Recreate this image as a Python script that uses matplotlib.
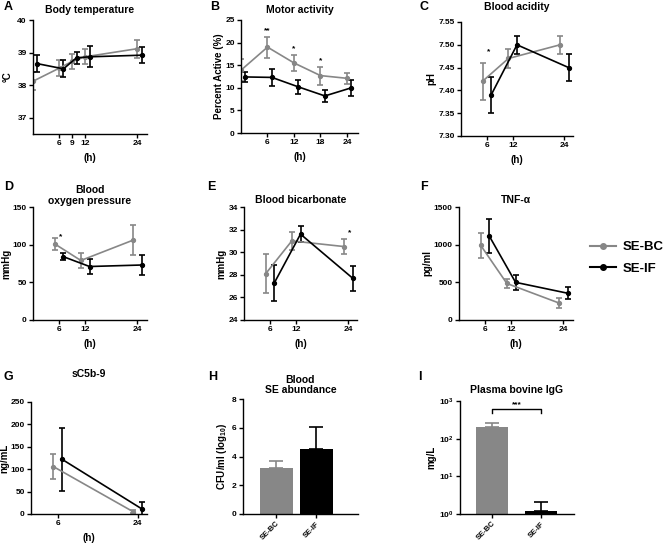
import numpy as np
import matplotlib
matplotlib.use("Agg")
import matplotlib.pyplot as plt
from matplotlib.lines import Line2D

plt.rcParams['font.family'] = ['Liberation Sans', 'DejaVu Sans']
plt.rcParams['font.weight'] = 'bold'
plt.rcParams['axes.labelweight'] = 'bold'
plt.rcParams['axes.titleweight'] = 'bold'
plt.rcParams['mathtext.fontset'] = 'custom'
plt.rcParams['mathtext.rm'] = 'Liberation Sans:bold'
plt.rcParams['mathtext.bf'] = 'Liberation Sans:bold'
plt.rcParams['mathtext.it'] = 'Liberation Sans:bold:italic'

# ---- data ----
# A body temperature
hours_bc_A = [0, 6, 9, 12, 24]
hours_if_A = [1, 7, 10, 13, 25]
temp_bc = [38.12, 38.52, 38.73, 38.87, 39.12]
temp_bc_err = [0.28, 0.24, 0.24, 0.23, 0.28]
temp_if = [38.66, 38.50, 38.84, 38.87, 38.92]
temp_if_err = [0.26, 0.26, 0.19, 0.32, 0.25]

# B motor activity
hours_bc_B = [0, 6, 12, 18, 24]
hours_if_B = [1, 7, 13, 19, 25]
act_bc = [13.9, 19.0, 15.5, 12.7, 12.1]
act_bc_err = [2.5, 2.3, 1.8, 2.0, 1.2]
act_if = [12.4, 12.3, 10.2, 8.2, 10.0]
act_if_err = [1.2, 1.8, 1.5, 1.4, 1.8]
act_stars = ['**', '*', '*']
act_star_x = [6, 12, 18]
act_star_y = [21.8, 17.8, 15.2]

# C-F blood samples
hours_bc_blood = [5, 11, 23]
hours_if_blood = [7, 13, 25]
ph_bc = [7.42, 7.47, 7.50]
ph_bc_err = [0.04, 0.02, 0.02]
ph_if = [7.39, 7.50, 7.45]
ph_if_err = [0.04, 0.02, 0.03]
po2_bc = [101, 79, 106]
po2_bc_err = [8, 10, 20]
po2_if = [84, 71, 73]
po2_if_err = [5, 9.5, 13.5]
hco3_bc = [28.1, 31.0, 30.5]
hco3_bc_err = [1.7, 0.8, 0.7]
hco3_if = [27.3, 31.6, 27.7]
hco3_if_err = [1.6, 0.7, 1.1]
tnf_bc = [990, 485, 225]
tnf_bc_err = [165, 60, 70]
tnf_if = [1110, 500, 355]
tnf_if_err = [225, 100, 80]

# G sC5b-9
hours_bc_G = [5, 23]
hours_if_G = [7, 25]
c5b9_bc = [106, 5]
c5b9_bc_err = [27, 3]
c5b9_if = [122, 11]
c5b9_if_err = [70, 16]

# H, I bars
groups = ['SE-BC', 'SE-IF']
se_abund = [3.2, 4.55]
se_abund_err = [0.5, 1.5]
igg = [200, 1.22]
igg_err = [55, 0.8]

GRAY = '#878787'
BLACK = '#000000'
W, H = 669, 544

fig = plt.figure(figsize=(W / 100, H / 100), dpi=100)


def px_axes(l, t, r, b):
    ax = fig.add_axes([l / W, 1 - b / H, (r - l) / W, (b - t) / H])
    ax.spines['top'].set_visible(False)
    ax.spines['right'].set_visible(False)
    for s in ('left', 'bottom'):
        ax.spines[s].set_linewidth(1.0)
    ax.tick_params(labelsize=6, length=3, width=1, pad=1.5)
    return ax


def lines(ax, xb, yb, eb, xi, yi, ei):
    kw = dict(marker='o', markersize=2.8, lw=1.2, elinewidth=1.2, capsize=2, capthick=1.2)
    ax.errorbar(xb, yb, yerr=eb, color=GRAY, **kw)
    ax.errorbar(xi, yi, yerr=ei, color=BLACK, **kw)
    ax.set_xlabel('(h)', fontsize=7, labelpad=4)


def letter(x, y, s):
    fig.text(x / W, 1 - y / H, s, fontsize=9, fontweight='bold', ha='left', va='center')


# A
ax = px_axes(33, 20, 147, 134)
lines(ax, hours_bc_A, temp_bc, temp_bc_err, hours_if_A, temp_if, temp_if_err)
ax.set_xlim(0, 26.2)
ax.set_ylim(36.5, 40)
ax.set_xticks([6, 9, 12, 24])
ax.set_yticks([37, 38, 39, 40])
ax.set_ylabel('°C', fontsize=7, labelpad=3)
ax.set_title('Body temperature', fontsize=7.5, pad=5)

# B
ax = px_axes(241, 20, 358, 133)
lines(ax, hours_bc_B, act_bc, act_bc_err, hours_if_B, act_if, act_if_err)
for s, x, y in zip(act_stars, act_star_x, act_star_y):
    ax.text(x, y, s, fontsize=6, ha='center', va='bottom')
ax.set_xlim(0, 26.5)
ax.set_ylim(0, 25)
ax.set_xticks([6, 12, 18, 24])
ax.set_yticks([0, 5, 10, 15, 20, 25])
ax.set_ylabel('Percent Active (%)', fontsize=7, labelpad=1)
ax.set_title('Motor activity', fontsize=7.5, pad=5)

# C
ax = px_axes(461, 22, 573, 136)
lines(ax, hours_bc_blood, ph_bc, ph_bc_err, hours_if_blood, ph_if, ph_if_err)
ax.text(6.4, 7.478, '*', fontsize=6, ha='center', va='bottom')
ax.set_xlim(0, 26)
ax.set_ylim(7.30, 7.55)
ax.set_xticks([6, 12, 24])
ax.set_yticks(np.arange(7.30, 7.551, 0.05))
ax.yaxis.set_major_formatter(matplotlib.ticker.FormatStrFormatter('%.2f'))
ax.set_ylabel('pH', fontsize=7, labelpad=1)
ax.set_title('Blood acidity', fontsize=7.5, pad=9)

# D
ax = px_axes(33, 207, 147, 320)
lines(ax, hours_bc_blood, po2_bc, po2_bc_err, hours_if_blood, po2_if, po2_if_err)
ax.text(6.3, 106, '*', fontsize=6, ha='center', va='bottom')
ax.set_xlim(0, 26.2)
ax.set_ylim(0, 150)
ax.set_xticks([6, 12, 24])
ax.set_yticks([0, 50, 100, 150])
ax.set_ylabel('mmHg', fontsize=7, labelpad=1)
ax.set_title('Blood\noxygen pressure', fontsize=7.5, pad=2.5, linespacing=1.1)

# E
ax = px_axes(244, 207, 357, 320)
lines(ax, hours_bc_blood, hco3_bc, hco3_bc_err, hours_if_blood, hco3_if, hco3_if_err)
ax.text(24.2, 31.4, '*', fontsize=6, ha='center', va='bottom')
ax.set_xlim(0, 26)
ax.set_ylim(24, 34)
ax.set_xticks([6, 12, 24])
ax.set_yticks([24, 26, 28, 30, 32, 34])
ax.set_ylabel('mmHg', fontsize=7, labelpad=1)
ax.set_title('Blood bicarbonate', fontsize=7.5, pad=3)

# F
ax = px_axes(459, 207, 573, 320)
lines(ax, hours_bc_blood, tnf_bc, tnf_bc_err, hours_if_blood, tnf_if, tnf_if_err)
ax.set_xlim(0, 26.2)
ax.set_ylim(0, 1500)
ax.set_xticks([6, 12, 24])
ax.set_yticks([0, 500, 1000, 1500])
ax.set_ylabel('pg/ml', fontsize=7, labelpad=1)
ax.set_title('TNF-α', fontsize=7.5, pad=3)

# G
ax = px_axes(31, 402, 147, 514)
lines(ax, hours_bc_G, c5b9_bc, c5b9_bc_err, hours_if_G, c5b9_if, c5b9_if_err)
ax.set_xlim(0, 26.1)
ax.set_ylim(0, 250)
ax.set_xticks([6, 24])
ax.set_yticks([0, 50, 100, 150, 200, 250])
ax.set_ylabel('ng/mL', fontsize=7, labelpad=1)
ax.set_title('sC5b-9', fontsize=7.5, pad=18)

# H
ax = px_axes(243, 399, 358, 514)
xpos = np.arange(len(groups))
for i, c in enumerate([GRAY, BLACK]):
    ax.bar(xpos[i], se_abund[i], width=0.83, color=c,
           yerr=[[0], [se_abund_err[i]]], ecolor=c, capsize=5,
           error_kw=dict(elinewidth=1.2, capthick=1.2))
ax.set_xlim(-0.83, 2.05)
ax.set_ylim(0, 8)
ax.set_yticks([0, 2, 4, 6, 8])
ax.set_xticks(xpos)
ax.set_xticklabels(groups, rotation=45, ha='right', rotation_mode='anchor', fontsize=5.5)
ax.set_ylabel(r'CFU/ml (log$_{10}$)', fontsize=7, labelpad=2)
ax.set_title('Blood\nSE abundance', fontsize=7.5, pad=4, linespacing=1.1)

# I
ax = px_axes(460, 401, 574, 514)
for i, c in enumerate([GRAY, BLACK]):
    ax.bar(xpos[i], igg[i], width=0.67, color=c, bottom=1e-3,
           yerr=[[0], [igg_err[i]]], ecolor=c, capsize=5,
           error_kw=dict(elinewidth=1.2, capthick=1.2))
ax.set_yscale('log')
ax.set_ylim(1, 1000)
ax.set_xlim(-0.66, 1.68)
ax.set_yticks([1, 10, 100, 1000])
ax.set_yticklabels([r'$\mathbf{10^{%d}}$' % k for k in range(4)])
ax.minorticks_off()
ax.set_xticks(xpos)
ax.set_xticklabels(groups, rotation=45, ha='right', rotation_mode='anchor', fontsize=5.5)
ax.plot([0, 0, 1, 1], [490, 600, 600, 490], color='black', lw=1)
ax.text(0.5, 640, '***', fontsize=6, ha='center', va='bottom')
ax.set_ylabel('mg/L', fontsize=7, labelpad=2)
ax.set_title('Plasma bovine IgG', fontsize=7.5, pad=6)

# panel letters
for s, x, y in [('A', 4, 7), ('B', 210, 7), ('C', 420, 7),
                ('D', 4, 187), ('E', 207, 187), ('F', 420, 187),
                ('G', 4, 377), ('H', 208, 377), ('I', 418, 377)]:
    letter(x, y, s)

handles = [Line2D([], [], color=GRAY, marker='o', markersize=4, lw=1.5),
           Line2D([], [], color=BLACK, marker='o', markersize=4, lw=1.5)]
fig.legend(handles, ['SE-BC', 'SE-IF'], loc='center left',
           bbox_to_anchor=(590 / W, 1 - 258 / H), frameon=False,
           fontsize=9.5, handlelength=2.0, labelspacing=0.7, handletextpad=0.5,
           borderpad=0, borderaxespad=0)

fig.savefig('out.png', dpi=100)
